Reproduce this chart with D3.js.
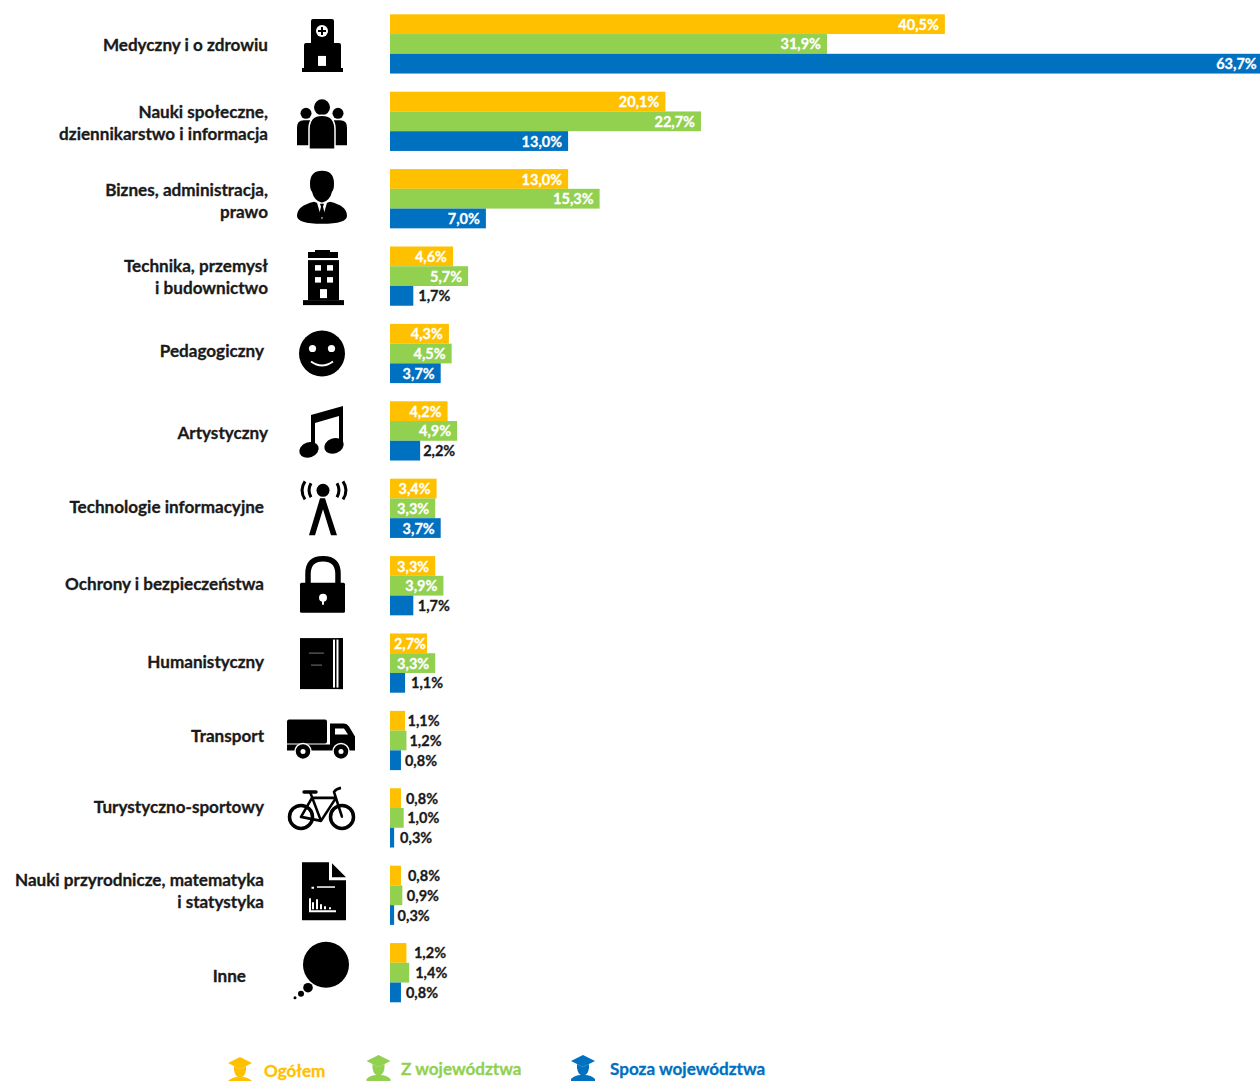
<!DOCTYPE html>
<html lang="pl">
<head>
<meta charset="utf-8">
<title>Kierunki studiów</title>
<script src="https://cdn.jsdelivr.net/npm/d3@7"></script>
<style>
    html, body { margin: 0; padding: 0; background: #fff; }
    svg { display: block; }
    text { font-family: Lato, "Open Sans", sans-serif; font-weight: 700; stroke-width: 0.3; paint-order: stroke; }
</style>
</head>
<body>
<svg width="1260" height="1081"></svg>
<script>
const categories = [
    "Medyczny i o zdrowiu",
    "Nauki społeczne,\ndziennikarstwo i informacja",
    "Biznes, administracja,\nprawo",
    "Technika, przemysł\ni budownictwo",
    "Pedagogiczny",
    "Artystyczny",
    "Technologie informacyjne",
    "Ochrony i bezpieczeństwa",
    "Humanistyczny",
    "Transport",
    "Turystyczno-sportowy",
    "Nauki przyrodnicze, matematyka\ni statystyka",
    "Inne"
];
const seriesNames = ["Ogółem", "Z województwa", "Spoza województwa"];
const ogolem = [40.5, 20.1, 13.0, 4.6, 4.3, 4.2, 3.4, 3.3, 2.7, 1.1, 0.8, 0.8, 1.2];
const zWojewodztwa = [31.9, 22.7, 15.3, 5.7, 4.5, 4.9, 3.3, 3.9, 3.3, 1.2, 1.0, 0.9, 1.4];
const spozaWojewodztwa = [63.7, 13.0, 7.0, 1.7, 3.7, 2.2, 3.7, 1.7, 1.1, 0.8, 0.3, 0.3, 0.8];
const allSeries = [ogolem, zWojewodztwa, spozaWojewodztwa];

const colors = ["#FFC000", "#92D050", "#0070C0"];

// gap between bar end and its label when the label sits outside (null = inside, white)
const outsideGaps = [
    [null, null, null, null, null, null, null, null, null, 2.5, 5, 7, 7.5],
    [null, null, null, null, null, null, null, null, null, 3, 3.5, 4.5, 6],
    [null, null, null, 5, null, 3, null, 4.5, 6, 4, 6, 3.5, 5]
];
// the category labels are not all aligned in the original
const labelRight = [268, 268, 268, 268, 264, 268, 264, 264, 264, 264, 264, 264, 246];
const labelShift = [1, 1.5, 2.5, 0.5, -2.7, 1.8, -1.7, -1.5, -1.2, -4.2, -10.5, -4.5, 3.5];

const svg = d3.select("svg");

const x = d3.scaleLinear()
    .domain([0, 63.7])
    .range([390, 390 + 63.7 * 13.7]);

const y = d3.scaleBand()
    .domain(d3.range(categories.length))
    .range([14.3, 1002.3])
    .paddingInner(0.2345);

const ySeries = d3.scaleBand()
    .domain(d3.range(3))
    .range([0, y.bandwidth()]);

const fmt = (v) => v.toFixed(1).replace(".", ",") + "%";

const rows = svg.selectAll(".row")
    .data(categories)
    .enter()
    .append("g")
    .attr("class", "row")
    .attr("transform", (d, i) => `translate(0, ${y(i)})`);

// bars + value labels
allSeries.forEach((values, s) => {
    rows.append("rect")
        .attr("x", x(0))
        .attr("y", ySeries(s))
        .attr("width", (d, i) => x(values[i]) - x(0))
        .attr("height", ySeries.bandwidth())
        .attr("fill", colors[s]);

    rows.append("text")
        .attr("x", (d, i) => {
            const gap = outsideGaps[s][i];
            if (gap !== null) return x(values[i]) + gap;
            // short bars: keep the label inside
            return x(values[i]) - Math.min(6, x(values[i]) - x(0) - 36);
        })
        .attr("y", ySeries(s) + ySeries.bandwidth() / 2 + 0.5)
        .attr("dy", "0.35em")
        .attr("text-anchor", (d, i) => outsideGaps[s][i] === null ? "end" : "start")
        .attr("fill", (d, i) => outsideGaps[s][i] === null ? "#fff" : "#1a1a1a")
        .attr("stroke", (d, i) => outsideGaps[s][i] === null ? "#fff" : "#1a1a1a")
        .attr("font-size", 14.5)
        .text((d, i) => fmt(values[i]));
});

// category labels
rows.each(function (d, i) {
    const lines = d.split("\n");
    const center = y.bandwidth() / 2 + labelShift[i];
    d3.select(this).selectAll(".cat")
        .data(lines)
        .enter()
        .append("text")
        .attr("class", "cat")
        .attr("x", labelRight[i])
        .attr("y", (l, k) => center + (k - (lines.length - 1) / 2) * 22)
        .attr("dy", "0.35em")
        .attr("text-anchor", "end")
        .attr("fill", "#1a1a1a")
        .attr("stroke", "#1a1a1a")
        .attr("font-size", 17.1)
        .text((l) => l);
});

// icons, drawn around (0, 0) = middle of the row
function shape(g, tag, attrs, fill) {
    const el = g.append(tag).attr("fill", fill === undefined ? "#000" : fill);
    Object.keys(attrs).forEach((k) => el.attr(k, attrs[k]));
    return el;
}

const icons = [
    (g) => { // hospital
        shape(g, "path", { d: "M-11,-23 q0,-2 2,-2 h19 q2,0 2,2 v22 h5 q2,0 2,2 v23 h2 v4 h-41 v-4 h2 v-23 q0,-2 2,-2 h5 z" });
        shape(g, "circle", { cx: 0, cy: -13, r: 6 }, "#fff");
        shape(g, "path", { d: "M-1,-17 h2 v3 h3 v2 h-3 v3 h-2 v-3 h-3 v-2 h3 z" });
        shape(g, "rect", { x: -4, y: 12, width: 8, height: 10 }, "#fff");
    },
    (g) => { // people
        shape(g, "circle", { cx: 0, cy: -14, r: 8 });
        shape(g, "circle", { cx: -16, cy: -8, r: 5.5 });
        shape(g, "circle", { cx: 16, cy: -8, r: 5.5 });
        shape(g, "path", { d: "M-25,24 v-18 q0,-7 7,-7 h6 v25 z M25,24 v-18 q0,-7 -7,-7 h-6 v25 z" });
        shape(g, "path", { d: "M-13,28 v-20 q0,-14 13,-14 q13,0 13,14 v20 z", stroke: "#fff", "stroke-width": 1.5 });
    },
    (g) => { // businessman
        shape(g, "path", { d: "M-12,-15 q0,-13 12,-13 q12,0 12,13 q0,6 -2,8 q-2,9 -10,11 q-8,-2 -10,-11 q-2,-2 -2,-8 z" });
        shape(g, "path", { d: "M-8,3 q-17,4 -17,14 q0,8 25,8 q25,0 25,-8 q0,-10 -17,-14 l-8,3 z" });
        shape(g, "path", { d: "M-5,4 h10 l-5,17 z" }, "#fff");
        shape(g, "path", { d: "M-2,5 h4 l-1,3 l2,8 l-3,3 l-3,-3 l2,-8 z" });
    },
    (g) => { // office building
        shape(g, "path", { d: "M-7,-26 h15 v2 h8 v6 h-30 v-6 h7 z" });
        shape(g, "rect", { x: -14, y: -16, width: 31, height: 40 });
        shape(g, "rect", { x: -19, y: 24, width: 41, height: 5 });
        [[-7, -11], [5, -11], [-7, 1], [5, 1]].forEach((p) => {
            shape(g, "rect", { x: p[0], y: p[1], width: 6, height: 5.5 }, "#fff");
        });
        shape(g, "rect", { x: -2, y: 13, width: 7, height: 9 }, "#fff");
    },
    (g) => { // smiley
        shape(g, "circle", { cx: 0, cy: 0, r: 23 });
        shape(g, "circle", { cx: -9.5, cy: -5, r: 3.6 }, "#fff");
        shape(g, "circle", { cx: 9.5, cy: -5, r: 3.6 }, "#fff");
        shape(g, "path", { d: "M-11,8 q11,8 22,0", stroke: "#fff", "stroke-width": 2 }, "none");
    },
    (g) => { // notes
        shape(g, "path", { d: "M-11,-16 L21,-25 V15 h-4 V-15 L-7,-8 V20 h-4 z" });
        shape(g, "ellipse", { cx: -13, cy: 19, rx: 10, ry: 7.5, transform: "rotate(-20 -13 19)" });
        shape(g, "ellipse", { cx: 12, cy: 15, rx: 10, ry: 7.5, transform: "rotate(-20 12 15)" });
    },
    (g) => { // antenna
        shape(g, "circle", { cx: 1, cy: -18, r: 6.5 });
        shape(g, "path", { d: "M-2,-10 h5 L15,27 h-6 L1,1 L-7,27 h-6 z" });
        const arcs = "M-17,-27 q-6,9 0,18 M-11,-25 q-4,7 0,14 M21,-27 q6,9 0,18 M15,-25 q4,7 0,14";
        shape(g, "path", { d: arcs, stroke: "#000", "stroke-width": 3 }, "none");
    },
    (g) => { // padlock
        shape(g, "path", { d: "M-14,0 v-12 q0,-15 15,-15 q15,0 15,15 v12", stroke: "#000", "stroke-width": 5.5 }, "none");
        shape(g, "rect", { x: -22, y: -3, width: 45, height: 30, rx: 1.5 });
        shape(g, "circle", { cx: 1, cy: 12, r: 4 }, "#fff");
        shape(g, "rect", { x: 0, y: 12, width: 2, height: 7 }, "#fff");
    },
    (g) => { // book
        shape(g, "rect", { x: -22, y: -25, width: 33, height: 51 });
        shape(g, "rect", { x: 13, y: -24, width: 1.5, height: 49 });
        shape(g, "rect", { x: 16.5, y: -25, width: 4.5, height: 51 });
        shape(g, "rect", { x: 11, y: -25, width: 10, height: 1.5 });
        shape(g, "rect", { x: 11, y: 24.5, width: 10, height: 1.5 });
        shape(g, "rect", { x: -13, y: -10.5, width: 15, height: 1 }, "#777");
        shape(g, "rect", { x: -11, y: 1.5, width: 11, height: 1 }, "#777");
    },
    (g) => { // truck
        shape(g, "path", { d: "M-35,-19 q0,-2 2,-2 h36 q2,0 2,2 v20 q0,2 -2,2 h-38 z" });
        shape(g, "path", { d: "M8,-17 h14 q3,0 5,3 l6,10 v14 h-68 v-6 h43 z" });
        shape(g, "path", { d: "M13,-12 h9 l4,6 h-13 z" }, "#fff");
        [-19, 19].forEach((cx) => {
            shape(g, "circle", { cx: cx, cy: 11, r: 8, stroke: "#fff", "stroke-width": 1.5 });
            shape(g, "circle", { cx: cx, cy: 11, r: 2.5 }, "#fff");
        });
    },
    (g) => { // bicycle
        [-21, 20].forEach((cx) => {
            shape(g, "circle", { cx: cx, cy: -1, r: 11.5, stroke: "#000", "stroke-width": 3.5 }, "none");
            shape(g, "circle", { cx: cx, cy: -1, r: 1 });
        });
        shape(g, "path", { d: "M-21,-1 L-10,-20 H14 L-1,3 Z M-12,-26 L-1,3 M20,-1 L12,-26 Q14,-29 19,-30", stroke: "#000", "stroke-width": 2.6, "stroke-linejoin": "round" }, "none");
        shape(g, "path", { d: "M-18,-26 H-6", stroke: "#000", "stroke-width": 3.5, "stroke-linecap": "round" }, "none");
    },
    (g) => { // document with chart
        shape(g, "path", { d: "M-20,-33 H7 V-15 H24 V25 H-20 z" });
        shape(g, "path", { d: "M10,-32 L24,-18 H10 z" });
        shape(g, "rect", { x: -10.5, y: -8.5, width: 2.5, height: 2 }, "#fff");
        shape(g, "rect", { x: -5, y: -9, width: 18, height: 1.5 }, "#fff");
        shape(g, "path", { d: "M-12,3 V16 H14 M-9,14 V7 M-5,14 V4 M-1,14 V9 M3,14 V11 M8,14 V12", stroke: "#fff", "stroke-width": 2 }, "none");
    },
    (g) => { // thought bubble
        shape(g, "circle", { cx: 4, cy: -8, r: 23 });
        shape(g, "circle", { cx: -14, cy: 15, r: 4.8 });
        shape(g, "circle", { cx: -21, cy: 21, r: 3 });
        shape(g, "circle", { cx: -27, cy: 25, r: 1.5 });
    }
];

rows.append("g")
    .attr("transform", `translate(322, ${y.bandwidth() / 2})`)
    .each(function (d, i) { icons[i](d3.select(this)); });

// legend
const legendIconX = [240, 378.5, 583];
const legendTextX = [264, 401, 610];
const legendY = [1077, 1075, 1075];

const legend = svg.selectAll(".legend")
    .data(seriesNames)
    .enter()
    .append("g")
    .attr("class", "legend");

legend.append("text")
    .attr("x", (d, i) => legendTextX[i])
    .attr("y", (d, i) => legendY[i])
    .attr("fill", (d, i) => colors[i])
    .attr("stroke", (d, i) => colors[i])
    .attr("font-size", 17.1)
    .text((d) => d);

legend.append("g")
    .attr("transform", (d, i) => `translate(${legendIconX[i]}, ${legendY[i] - 14})`)
    .each(function (d, i) {
        const g = d3.select(this);
        shape(g, "path", { d: "M0,-6 L12,0 L0,6 L-12,0 Z" }, colors[i]);
        shape(g, "path", { d: "M-6,3 L0,6 L6,3 V7 Q5,13 2,14 Q8,14 12,18 V30 H-12 V18 Q-8,14 -2,14 Q-5,13 -6,7 Z" }, colors[i]);
    });
</script>
</body>
</html>
